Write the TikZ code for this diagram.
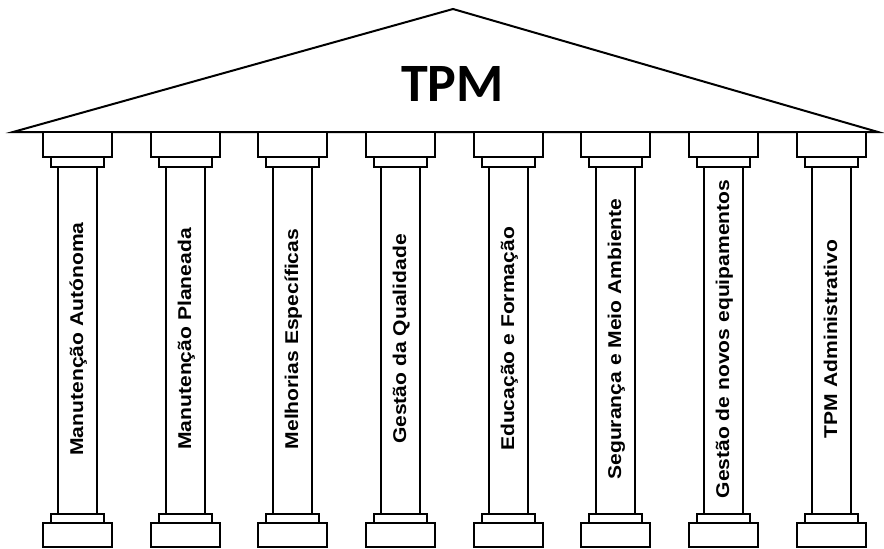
\documentclass[tikz,border=0pt]{standalone}
\usepackage{fontspec}
\setmainfont{Liberation Sans}
\newfontfamily\titlefont{Carlito}
\begin{document}
\begin{tikzpicture}[x=1pt, y=-1pt, line width=2pt,
  part/.style={draw=black, fill=white},
  pillarlabel/.style={rotate=90, anchor=base, inner sep=0pt,
    font=\bfseries\fontsize{18.5}{18.5}\selectfont}]
\useasboundingbox (0,0) rectangle (884,549);

% roof
\draw[line join=miter] (13,132) -- (453,9) -- (878,132) -- cycle;
\node[font=\titlefont\bfseries\fontsize{54}{54}\selectfont] (title) at (452.5,83.5) {TPM};

% pillars: capital, ring, shaft, ring, base block
\foreach \i/\t in {0/Manutenção Autónoma, 1/Manutenção Planeada,
    2/Melhorias Específicas, 3/Gestão da Qualidade, 4/Educação e Formação,
    5/Segurança e Meio Ambiente, 6/Gestão de novos equipamentos,
    7/TPM Administrativo} {
  \pgfmathtruncatemacro\L{43+107.7*\i+0.5}
  \draw[part] (\L,132) rectangle (\L+69,157);
  \draw[part] (\L+15,167) rectangle (\L+54,514);
  \draw[part] (\L+8,157) rectangle (\L+61,167);
  \draw[part] (\L+8,514) rectangle (\L+61,523);
  \draw[part] (\L,523) rectangle (\L+69,547);
  \node[pillarlabel] (pillar\i) at (\L+40,339) {\scalebox{1.14}[1]{\t}};
}
\end{tikzpicture}
\end{document}
